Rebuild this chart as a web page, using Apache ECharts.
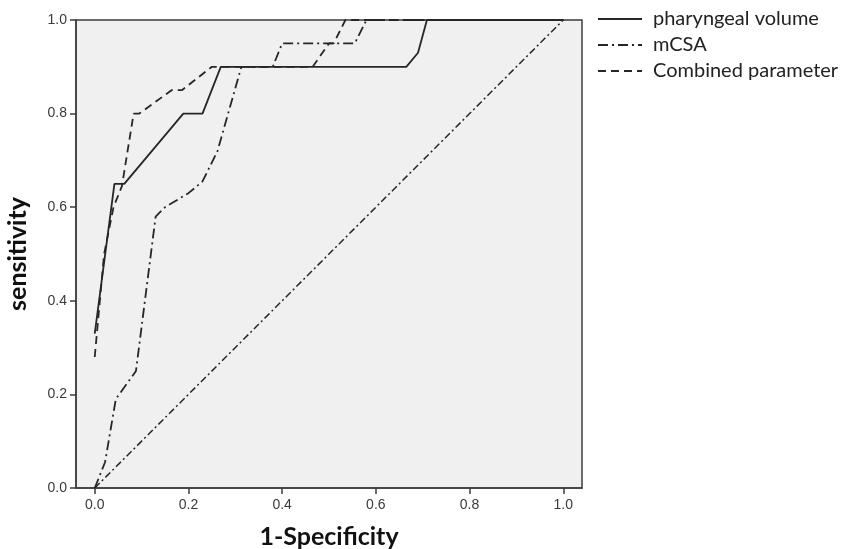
<!DOCTYPE html>
<html>
<head>
<meta charset="utf-8">
<script src="https://cdn.jsdelivr.net/npm/echarts@6/dist/echarts.min.js"></script>
<style>
html,body{margin:0;padding:0;background:#fff;}
#chart{width:856px;height:549px;}
</style>
</head>
<body>
<div id="chart"></div>
<script>
// ROC curves: [1-Specificity, sensitivity]
var pharyngealVolume = [[0,0.33],[0.042,0.65],[0.063,0.65],[0.189,0.80],[0.23,0.80],[0.269,0.90],[0.665,0.90],[0.69,0.93],[0.709,1.0],[1,1]];
var mCSA = [[0,0],[0.022,0.055],[0.045,0.19],[0.088,0.25],[0.13,0.58],[0.15,0.60],[0.20,0.63],[0.23,0.655],[0.262,0.72],[0.313,0.90],[0.38,0.90],[0.40,0.95],[0.555,0.95],[0.58,1.0],[1,1]];
var combined = [[0,0.28],[0.02,0.50],[0.04,0.60],[0.058,0.645],[0.083,0.80],[0.095,0.80],[0.164,0.85],[0.186,0.85],[0.25,0.90],[0.465,0.90],[0.50,0.95],[0.51,0.95],[0.535,1.0],[1,1]];
var reference = [[0,0],[1,1]];
var seriesNames = ['pharyngeal volume','mCSA','Combined parameter'];
var tickValues = [0,0.2,0.4,0.6,0.8,1.0];

var chart = echarts.init(document.getElementById('chart'));
var lineColor = '#262626';
function mk(name, data, type, w){
  return {
    name: name, type: 'line', data: data, symbol: 'none', showSymbol: false,
    animation: false, silent: true,
    lineStyle: {color: lineColor, width: w, type: type},
    itemStyle: {color: lineColor}
  };
}
chart.setOption({
  animation: false,
  grid: {left: 76, right: 274, top: 20, bottom: 61, show: true, containLabel: false,
         outerBoundsMode: 'none',
         backgroundColor: '#f0f0f0', borderColor: '#3c3c3c', borderWidth: 1.5},
  legend: {
    data: seriesNames, orient: 'vertical', left: 597, top: 9, padding: 0,
    itemWidth: 44, itemHeight: 14, itemGap: 6,
    itemStyle: {opacity: 0},
    textStyle: {fontFamily: 'Lato', fontSize: 20, color: '#222', padding: [0,0,0,6]},
    selectedMode: false
  },
  xAxis: {
    type: 'value', min: -0.04, max: 1.04,
    name: '1-Specificity', nameLocation: 'middle', nameGap: 36,
    nameTextStyle: {fontFamily: 'Lato', fontWeight: 'bold', fontSize: 25, color: '#111'},
    axisLine: {show: true, onZero: false, lineStyle: {color: '#3c3c3c', width: 1.5}},
    axisTick: {show: true, length: 6, customValues: tickValues, lineStyle: {color: '#3c3c3c', width: 1.5}},
    axisLabel: {customValues: tickValues, margin: 10, fontFamily: 'Liberation Sans', fontSize: 14, color: '#3a3a3a',
                formatter: function(v){return v.toFixed(1);}},
    splitLine: {show: false}
  },
  yAxis: {
    type: 'value', min: 0, max: 1, interval: 0.2,
    name: 'sensitivity', nameLocation: 'middle', nameGap: 46,
    nameTextStyle: {fontFamily: 'Lato', fontWeight: 'bold', fontSize: 25, color: '#111'},
    axisLine: {show: true, onZero: false, lineStyle: {color: '#3c3c3c', width: 1.5}},
    axisTick: {show: true, length: 6, lineStyle: {color: '#3c3c3c', width: 1.5}},
    axisLabel: {margin: 9, fontFamily: 'Liberation Sans', fontSize: 14, color: '#3a3a3a',
                formatter: function(v){return v.toFixed(1);}},
    splitLine: {show: false}
  },
  series: [
    mk(seriesNames[0], pharyngealVolume, 'solid', 1.8),
    mk(seriesNames[1], mCSA, [10,4,2,4], 1.8),
    mk(seriesNames[2], combined, [8,5], 1.8),
    mk('reference', reference, [7,3,2,3], 1.5)
  ]
});
</script>
</body>
</html>
